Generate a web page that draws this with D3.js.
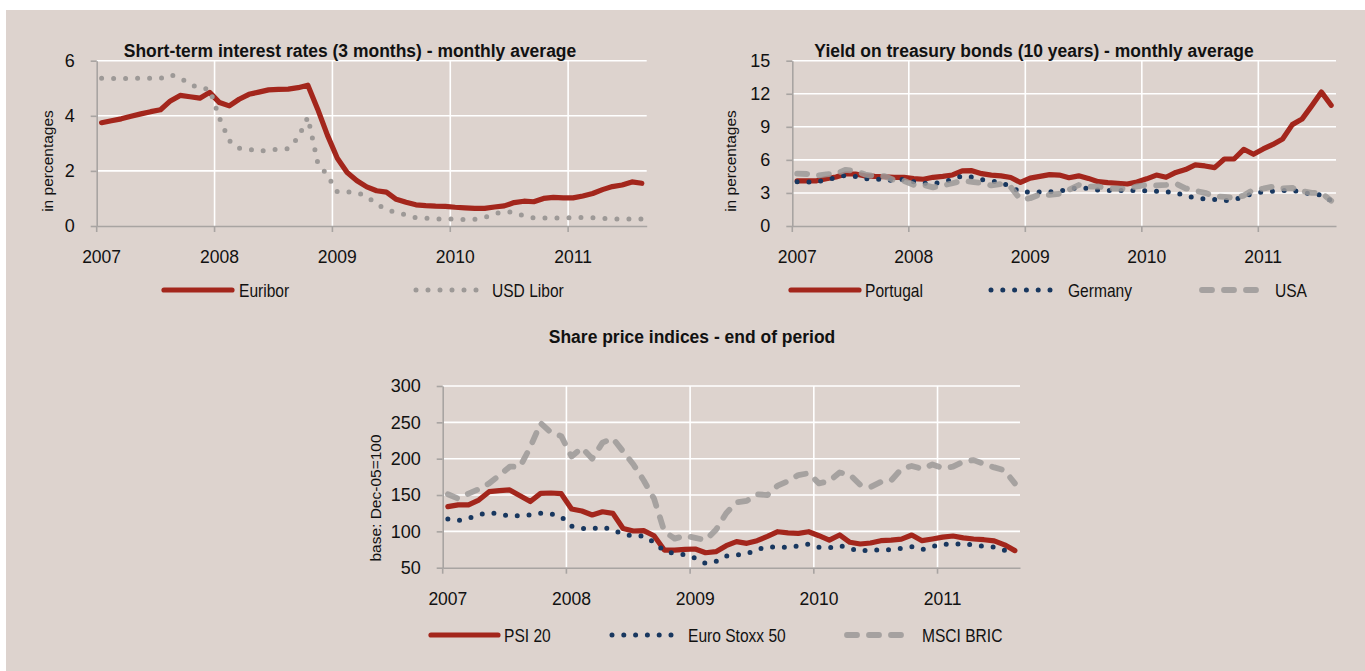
<!DOCTYPE html>
<html><head><meta charset="utf-8">
<script src="https://cdn.jsdelivr.net/npm/d3@7"></script>
<style>
html,body{margin:0;padding:0;background:#fff;}
svg{display:block;}
</style></head><body>
<svg id="c" width="1365" height="671"></svg>
<script>
// ---------- DATA ----------
const yearLabels = ["2007", "2008", "2009", "2010", "2011"];
const monthLabels = d3.timeMonth.range(new Date(2007, 0, 1), new Date(2011, 8, 1)).map(d3.timeFormat("%b-%y"));

// Short-term interest rates (3 months) - monthly average, %
const euribor = [3.75, 3.82, 3.89, 3.98, 4.07, 4.15, 4.22, 4.54, 4.74, 4.69, 4.64, 4.85,
  4.48, 4.36, 4.60, 4.78, 4.86, 4.94, 4.96, 4.97, 5.02, 5.11, 4.24, 3.29,
  2.46, 1.94, 1.64, 1.42, 1.28, 1.23, 0.97, 0.86, 0.77, 0.74, 0.72, 0.71,
  0.68, 0.66, 0.64, 0.64, 0.69, 0.73, 0.85, 0.90, 0.88, 1.00, 1.04, 1.02,
  1.02, 1.09, 1.18, 1.32, 1.43, 1.49, 1.60, 1.55];
const usdLibor = [5.36, 5.36, 5.35, 5.36, 5.36, 5.36, 5.36, 5.49, 5.38, 5.15, 5.00, 4.97,
  3.92, 3.10, 2.82, 2.79, 2.70, 2.76, 2.79, 2.81, 3.20, 3.95, 2.30, 1.83,
  1.24, 1.24, 1.22, 1.07, 0.80, 0.60, 0.49, 0.41, 0.30, 0.28, 0.26, 0.25,
  0.25, 0.23, 0.24, 0.31, 0.44, 0.52, 0.50, 0.36, 0.29, 0.29, 0.29, 0.30,
  0.30, 0.31, 0.30, 0.28, 0.26, 0.25, 0.25, 0.25];

// Yield on treasury bonds (10 years) - monthly average, %
const portugal = [4.10, 4.10, 4.10, 4.30, 4.45, 4.72, 4.72, 4.55, 4.50, 4.47, 4.42, 4.42,
  4.30, 4.24, 4.42, 4.50, 4.63, 5.00, 5.02, 4.75, 4.62, 4.55, 4.40, 3.95,
  4.35, 4.50, 4.66, 4.62, 4.38, 4.55, 4.32, 4.02, 3.93, 3.88, 3.81, 4.00,
  4.28, 4.62, 4.42, 4.86, 5.12, 5.54, 5.45, 5.30, 6.08, 6.08, 6.96, 6.51,
  6.99, 7.40, 7.90, 9.20, 9.70, 10.90, 12.15, 10.95];
const germany = [4.02, 3.99, 3.99, 4.20, 4.40, 4.60, 4.50, 4.30, 4.25, 4.24, 4.11, 4.24,
  4.02, 3.90, 3.85, 4.00, 4.20, 4.55, 4.45, 4.20, 4.10, 3.93, 3.57, 3.06,
  3.09, 3.09, 3.09, 3.15, 3.35, 3.50, 3.40, 3.27, 3.22, 3.20, 3.24, 3.20,
  3.20, 3.15, 3.09, 3.02, 2.72, 2.57, 2.45, 2.40, 2.30, 2.39, 2.66, 2.97,
  3.08, 3.15, 3.20, 3.27, 3.02, 2.92, 2.80, 2.30];
const usa = [4.76, 4.72, 4.56, 4.69, 4.75, 5.10, 5.00, 4.67, 4.52, 4.53, 4.15, 4.10,
  3.74, 3.74, 3.51, 3.68, 3.88, 4.10, 4.01, 3.89, 3.69, 3.81, 3.53, 2.42,
  2.52, 2.87, 2.82, 2.93, 3.29, 3.72, 3.56, 3.59, 3.40, 3.39, 3.40, 3.59,
  3.73, 3.69, 3.73, 3.85, 3.42, 3.20, 3.01, 2.70, 2.65, 2.54, 2.76, 3.29,
  3.39, 3.58, 3.41, 3.46, 3.17, 3.00, 3.00, 2.30];

// Share price indices - end of period, base Dec-05 = 100
const psi20 = [134, 136.5, 136.5, 143, 154.6, 156, 157, 149, 141, 152.3, 152.8, 151.8,
  130.7, 128, 122.5, 127, 124.8, 104, 100.5, 101, 94, 74.3, 74.3, 75.2,
  75.7, 70.6, 72, 80.3, 85.8, 83.5, 87.2, 93, 99.5, 98, 97.2, 99.5,
  94, 88, 95, 85, 82.6, 84, 87.2, 88, 89.4, 95, 87.2, 89.5,
  92, 93.6, 91, 89.5, 88.5, 87, 81.5, 73.5];
const euroStoxx50 = [117, 115, 118, 123, 125.5, 124, 121, 121.5, 122.5, 125, 124, 120,
  107, 104, 103.5, 106, 102, 96, 94, 93.5, 85, 73, 69.5, 68,
  63, 56, 58.5, 66, 67.5, 69, 75, 79, 78, 78, 80, 82.6,
  78, 77.5, 80.5, 76.5, 72.5, 75, 74, 75, 76.6, 78.9, 75, 79,
  82.5, 82, 83.5, 81, 79.5, 78.5, 74, 72];
const msciBric = [151, 145, 152, 158, 166, 177, 189, 189, 216, 249, 236, 231,
  203, 215, 200, 222, 228, 210, 192, 170, 145, 100, 90, 94,
  91, 88, 102, 125, 140, 142, 151, 150, 163, 169, 177.5, 180,
  166, 169, 181, 178, 164, 161, 168, 170, 186, 190, 186, 192,
  187, 189, 196, 198, 193, 188, 184, 166];

const ticksRates = [0, 2, 4, 6];
const ticksBonds = [0, 3, 6, 9, 12, 15];
const ticksShares = [50, 100, 150, 200, 250, 300];

// ---------- STYLES ----------
const BG = "#ddd3ce";
const FONT = "'Liberation Sans', Arial, sans-serif";
const styles = {
  red:   {stroke: "#a3261c", width: 5.2, dash: null, cap: "round", opacity: 1},
  navy:  {stroke: "#18375f", width: 5, dash: "0 11.8", cap: "round", opacity: 1},
  greyDot: {stroke: "#9d9997", width: 5, dash: "0 12", cap: "round", opacity: 1},
  greyDash: {stroke: "#9c9998", width: 5.8, dash: "10 12", cap: "round", opacity: 0.85}
};

const svg = d3.select("#c");
svg.append("rect").attr("x", 6).attr("y", 10).attr("width", 1365 - 6).attr("height", 671 - 10).attr("fill", BG);

function chart(o) {
  const g = svg.append("g");
  const x = d3.scaleBand().domain(monthLabels).range([o.x0, o.x1]);
  const y = d3.scaleLinear().domain(o.yDomain).range([o.yb, o.yt]);
  const jan = monthLabels.filter((m, i) => i % 12 === 0);

  // horizontal grid
  g.append("g").selectAll("line").data(o.yTicks.slice(1)).join("line")
    .attr("x1", o.x0).attr("x2", o.x1).attr("y1", d => y(d)).attr("y2", d => y(d))
    .attr("stroke", "#fff").attr("stroke-width", 1.6);
  // vertical grid
  g.append("g").selectAll("line").data(jan.slice(1)).join("line")
    .attr("x1", d => x(d)).attr("x2", d => x(d)).attr("y1", o.yb).attr("y2", o.yt)
    .attr("stroke", "#fff").attr("stroke-width", 1.6);

  // y axis
  const ya = g.append("g").attr("transform", `translate(${o.x0},0)`)
    .call(d3.axisLeft(y).tickValues(o.yTicks).tickSize(6).tickSizeOuter(0).tickPadding(16).tickFormat(d3.format("d")));
  ya.selectAll("path,line").attr("stroke", "#a8a4a2").attr("stroke-width", 1.6);
  ya.selectAll("text").attr("font-family", FONT).attr("font-size", 18).attr("fill", "#111");

  // x axis (labels centered on January)
  const xa = g.append("g").attr("transform", `translate(0,${o.yb})`)
    .call(d3.axisBottom(x).tickValues(jan).tickSize(0).tickSizeOuter(0).tickPadding(25)
      .tickFormat((d, i) => yearLabels[i]));
  xa.select("path").attr("stroke", "#a8a4a2").attr("stroke-width", 1.6);
  xa.selectAll("text").attr("font-family", FONT).attr("font-size", 17.5).attr("fill", "#111");
  // year tick marks at boundaries
  g.append("g").selectAll("line").data(jan).join("line")
    .attr("x1", d => x(d)).attr("x2", d => x(d)).attr("y1", o.yb).attr("y2", o.yb + 6)
    .attr("stroke", "#a8a4a2").attr("stroke-width", 1.6);

  // series
  const line = d3.line().x((d, i) => x(monthLabels[i]) + x.bandwidth() / 2).y(d => y(d)).curve(d3.curveLinear);
  o.series.forEach(s => {
    const st = styles[s.style];
    g.append("path").datum(s.values).attr("d", line).attr("fill", "none")
      .attr("stroke", st.stroke).attr("stroke-width", st.width)
      .attr("stroke-dasharray", st.dash).attr("stroke-linecap", st.cap)
      .attr("stroke-linejoin", "round").attr("opacity", st.opacity);
  });

  // title (condensed bold)
  g.append("text").attr("transform", `translate(${o.titleX},${o.titleY}) scale(0.92,1)`)
    .attr("text-anchor", "middle")
    .attr("font-family", FONT).attr("font-weight", "bold").attr("font-size", 19).attr("fill", "#111")
    .text(o.title);
  // y title
  g.append("text").attr("transform", `translate(${o.yTitleX},${o.yTitleY}) rotate(-90)`)
    .attr("text-anchor", "middle").attr("font-family", FONT).attr("font-size", 15.5).attr("fill", "#111")
    .text(o.yTitle);

  // legend
  o.series.forEach(s => {
    const st = styles[s.style];
    g.append("line").attr("x1", s.lx0).attr("x2", s.lx1).attr("y1", o.legendY).attr("y2", o.legendY)
      .attr("stroke", st.stroke).attr("stroke-width", st.width)
      .attr("stroke-dasharray", st.dash).attr("stroke-linecap", st.cap).attr("opacity", st.opacity);
    g.append("text").attr("transform", `translate(${s.tx},${o.legendY + 6.5}) scale(0.89,1)`)
      .attr("font-family", FONT).attr("font-size", 17.5).attr("fill", "#111").text(s.name);
  });
}

chart({
  x0: 96.7, x1: 646.7, yb: 226, yt: 60.7, yDomain: [0, 6], yTicks: ticksRates,
  title: "Short-term interest rates (3 months) - monthly average", titleX: 350, titleY: 56.5,
  yTitle: "in percentages", yTitleX: 52.5, yTitleY: 161, legendY: 290,
  series: [
    {name: "Euribor", values: euribor, style: "red", lx0: 164, lx1: 232, tx: 239},
    {name: "USD Libor", values: usdLibor, style: "greyDot", lx0: 416, lx1: 479, tx: 492}
  ]
});
chart({
  x0: 792.3, x1: 1336, yb: 226, yt: 60.7, yDomain: [0, 15], yTicks: ticksBonds,
  title: "Yield on treasury bonds (10 years) - monthly average", titleX: 1034, titleY: 56.5,
  yTitle: "in percentages", yTitleX: 736, yTitleY: 161, legendY: 290,
  series: [
    {name: "Portugal", values: portugal, style: "red", lx0: 791, lx1: 859, tx: 865},
    {name: "Germany", values: germany, style: "navy", lx0: 991, lx1: 1056, tx: 1068},
    {name: "USA", values: usa, style: "greyDash", lx0: 1202, lx1: 1263, tx: 1275}
  ]
});
chart({
  x0: 442.7, x1: 1020, yb: 567.7, yt: 386, yDomain: [50, 300], yTicks: ticksShares,
  title: "Share price indices - end of period", titleX: 692, titleY: 343,
  yTitle: "base: Dec-05=100", yTitleX: 381, yTitleY: 498, legendY: 635,
  series: [
    {name: "PSI 20", values: psi20, style: "red", lx0: 431, lx1: 498, tx: 504},
    {name: "Euro Stoxx 50", values: euroStoxx50, style: "navy", lx0: 612, lx1: 676, tx: 688},
    {name: "MSCI BRIC", values: msciBric, style: "greyDash", lx0: 847, lx1: 908, tx: 922}
  ]
});
</script>
</body></html>
